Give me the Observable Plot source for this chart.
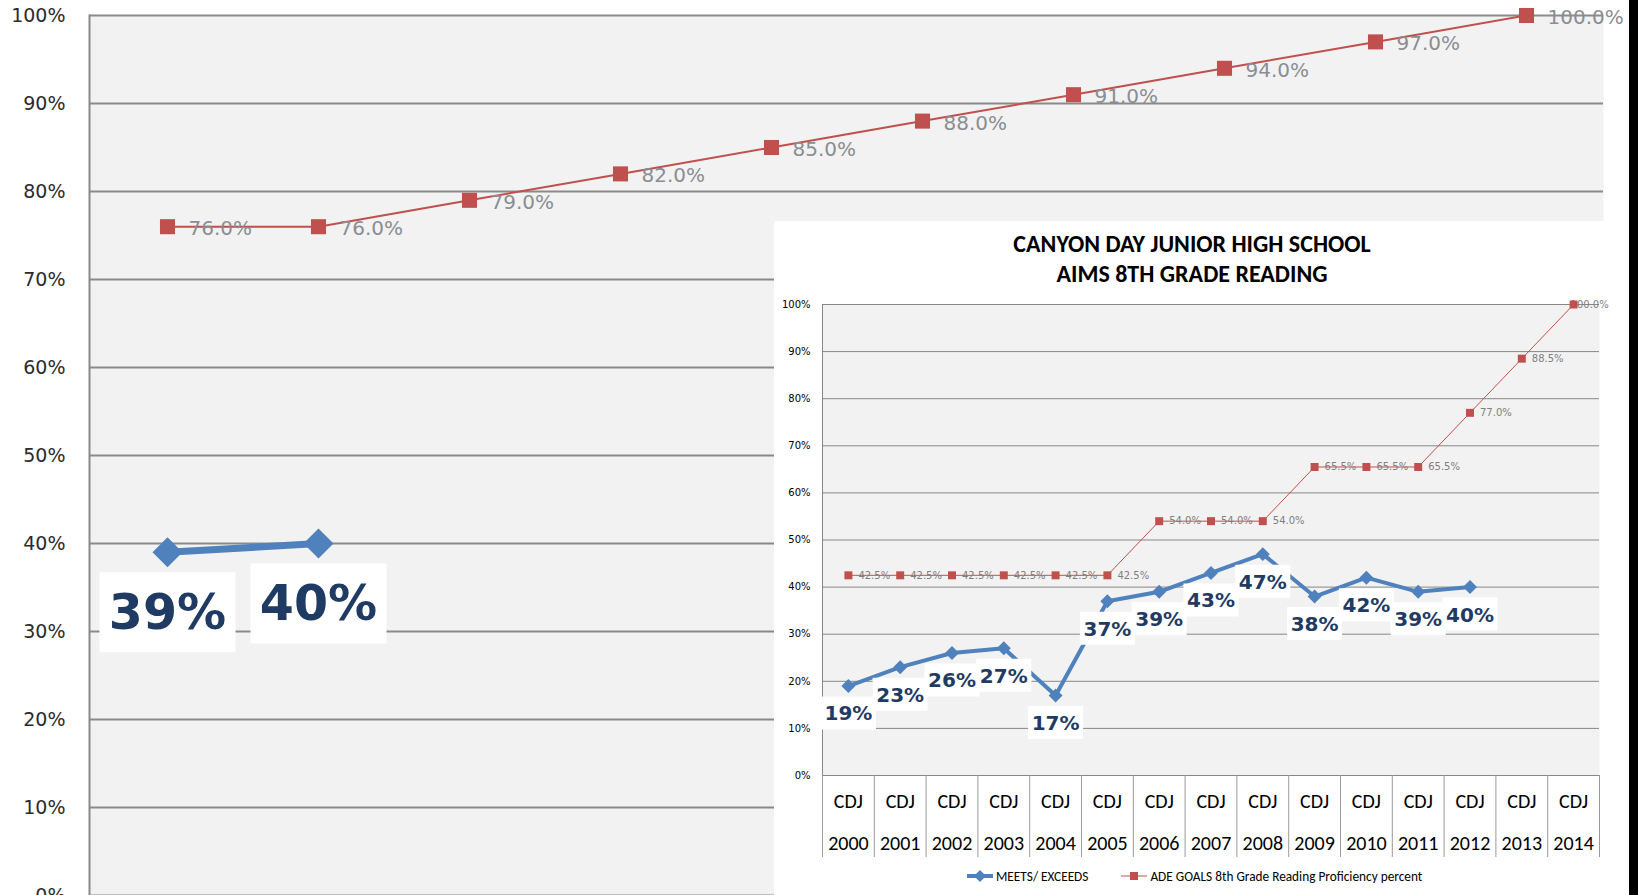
<!DOCTYPE html>
<html>
<head>
<meta charset="utf-8">
<script src="https://cdn.jsdelivr.net/npm/d3@7"></script>
<script src="https://cdn.jsdelivr.net/npm/@observablehq/plot@0.6"></script>
<style>
  html, body { margin: 0; padding: 0; background: #fff; }
  #stage { position: relative; width: 1638px; height: 895px; overflow: hidden; background: #fff; }
  #bg { position: absolute; left: 0; top: 0; }
  #inset { position: absolute; left: 774px; top: 221px; width: 855px; height: 674px; background: #fff; overflow: hidden; }
  #insetPlot { position: absolute; left: 0; top: 0; }
  #title { position: absolute; left: 0; top: 8px; width: 836px; text-align: center;
           font-family: Carlito, Lato, "Open Sans", sans-serif; font-weight: bold; font-size: 24px; line-height: 30px; color: #000; }
  #legend { position: absolute; left: 193px; top: 647px; height: 16px; display: flex; align-items: center;
            font-family: Carlito, Lato, sans-serif; font-size: 13.3px; color: #000; white-space: nowrap; }
  #legend svg { display: block; }
  #black { position: absolute; left: 1629px; top: 0; width: 9px; height: 895px; background: #000; }
</style>
</head>
<body>
<div id="stage">
  <div id="bg"></div>
  <div id="inset">
    <div id="insetPlot"></div>
    <div id="title">CANYON DAY JUNIOR HIGH SCHOOL<br>AIMS 8TH GRADE READING</div>
    <div id="legend">
      <svg width="26" height="14"><line x1="0" y1="7" x2="26" y2="7" stroke="#4f81bd" stroke-width="4"/><path d="M13,1 L19,7 L13,13 L7,7 Z" fill="#4f81bd"/></svg>
      <span style="margin-left:3px">MEETS/ EXCEEDS</span>
      <svg width="26" height="14" style="margin-left:33px"><line x1="0" y1="7" x2="26" y2="7" stroke="#c0504d" stroke-width="1"/><rect x="9" y="3" width="8" height="8" fill="#c0504d"/></svg>
      <span style="margin-left:3px">ADE GOALS 8th Grade Reading Proficiency percent</span>
    </div>
  </div>
  <div id="black"></div>
</div>
<script>
// ---------- data: background (magnified) chart ----------
const bgCategories = ["1", "2", "3", "4", "5", "6", "7", "8", "9", "10"];
const bgGoals = [76.0, 76.0, 79.0, 82.0, 85.0, 88.0, 91.0, 94.0, 97.0, 100.0];
const bgMeets = [39, 40];
const bgTicks = [0, 10, 20, 30, 40, 50, 60, 70, 80, 90, 100];

// ---------- data: inset chart ----------
const years = ["2000", "2001", "2002", "2003", "2004", "2005", "2006", "2007", "2008", "2009", "2010", "2011", "2012", "2013", "2014"];
const schoolCode = "CDJ";
const meetsExceeds = [19, 23, 26, 27, 17, 37, 39, 43, 47, 38, 42, 39, 40];
const adeGoals = [42.5, 42.5, 42.5, 42.5, 42.5, 42.5, 54.0, 54.0, 54.0, 65.5, 65.5, 65.5, 77.0, 88.5, 100.0];
const insetTicks = [0, 10, 20, 30, 40, 50, 60, 70, 80, 90, 100];

const boxSymbol = (w, h) => ({ draw(ctx) { ctx.rect(-w / 2, -h / 2, w, h); } });
const pct1 = v => v.toFixed(1) + "%";
const pct0 = v => v + "%";

// ---------- background chart ----------
const bgGoalRows = bgGoals.map((v, i) => ({ c: bgCategories[i], v }));
const bgMeetRows = bgMeets.map((v, i) => ({ c: bgCategories[i], v }));

const bg = Plot.plot({
  width: 1638, height: 895,
  marginLeft: 89, marginRight: 35, marginTop: 15, marginBottom: 0,
  style: { background: "transparent", fontFamily: "DejaVu Sans" },
  x: { type: "point", domain: bgCategories, padding: 0.5, axis: null },
  y: { domain: [0, 100], label: null },
  marks: [
    Plot.frame({ fill: "#f2f2f2", stroke: null }),
    Plot.gridY(bgTicks, { stroke: "#8a8a8a", strokeOpacity: 1, strokeWidth: 2 }),
    Plot.frame({ anchor: "left", stroke: "#8a8a8a", strokeWidth: 2 }),
    Plot.axisY(bgTicks, { tickSize: 0, tickPadding: 24, tickFormat: pct0, fontSize: 19, fill: "#2b2b2b" }),
    Plot.line(bgGoalRows, { x: "c", y: "v", stroke: "#c0504d", strokeWidth: 2 }),
    Plot.text(bgGoalRows, { x: "c", y: "v", text: d => pct1(d.v), textAnchor: "start", dx: 21, dy: 2, fontSize: 20, fill: "#8a8d93" }),
    Plot.dot(bgGoalRows, { x: "c", y: "v", symbol: "square", r: 8.5, fill: "#c0504d" }),
    Plot.line(bgMeetRows, { x: "c", y: "v", stroke: "#4f81bd", strokeWidth: 7 }),
    Plot.dot(bgMeetRows, { x: "c", y: "v", symbol: "diamond2", r: 13.5, fill: "#4f81bd" }),
    Plot.dot(bgMeetRows, { x: "c", y: "v", symbol: boxSymbol(136, 80), fill: "#fff", dy: 60 }),
    Plot.text(bgMeetRows, { x: "c", y: "v", text: d => pct0(d.v), dy: 61, fontSize: 49, fontWeight: "bold", fill: "#1f3b63" })
  ]
});
document.getElementById("bg").appendChild(bg);

// ---------- inset chart ----------
const goalRows = adeGoals.map((v, i) => ({ i: i + 0.5, v }));
const meetRows = meetsExceeds.map((v, i) => ({ i: i + 0.5, v }));
const boundaries = d3.range(0, years.length + 1);
const centers = years.map((d, i) => i + 0.5);

const inset = Plot.plot({
  width: 855, height: 674,
  marginLeft: 48, marginRight: 30, marginTop: 83, marginBottom: 120,
  style: { background: "transparent", fontFamily: "DejaVu Sans" },
  x: { domain: [0, years.length], label: null },
  y: { domain: [0, 100], label: null },
  marks: [
    Plot.frame({ fill: "#f2f2f2", stroke: null }),
    Plot.gridY(insetTicks, { stroke: "#878787", strokeOpacity: 1, strokeWidth: 1 }),
    Plot.ruleX([0], { stroke: "#878787" }),
    Plot.axisY(insetTicks, { tickSize: 0, tickPadding: 12, tickFormat: pct0, fontSize: 10, fill: "#000" }),
    Plot.axisX(boundaries, { tickSize: 82, stroke: "#9a9a9a", tickFormat: () => "" }),
    Plot.axisX(centers, { tickSize: 0, tickPadding: 3, tickFormat: d => schoolCode + "\n" + years[Math.floor(d)],
      lineHeight: 2.1, fontSize: 20, fontFamily: "Carlito, Lato, sans-serif", fill: "#000" }),
    Plot.line(goalRows, { x: "i", y: "v", stroke: "#c0504d", strokeWidth: 1 }),
    Plot.text(goalRows.slice(0, -1), { x: "i", y: "v", text: d => pct1(d.v), textAnchor: "start", dx: 10, fontSize: 10, fill: "#7f7f7f" }),
    Plot.text(goalRows.slice(-1), { x: "i", y: "v", text: d => pct1(d.v), textAnchor: "start", dx: -3, fontSize: 10, fill: "#7f7f7f" }),
    Plot.dot(goalRows, { x: "i", y: "v", symbol: "square", r: 4.5, fill: "#c0504d" }),
    Plot.line(meetRows, { x: "i", y: "v", stroke: "#4f81bd", strokeWidth: 4 }),
    Plot.dot(meetRows, { x: "i", y: "v", symbol: "diamond2", r: 6.3, fill: "#4f81bd" }),
    Plot.dot(meetRows, { x: "i", y: "v", symbol: boxSymbol(55, 33), fill: "#fff", dy: 27 }),
    Plot.text(meetRows, { x: "i", y: "v", text: d => pct0(d.v), dy: 28, fontSize: 20, fontWeight: "bold", fill: "#1f3b63" })
  ]
});
document.getElementById("insetPlot").appendChild(inset);
</script>
</body>
</html>
